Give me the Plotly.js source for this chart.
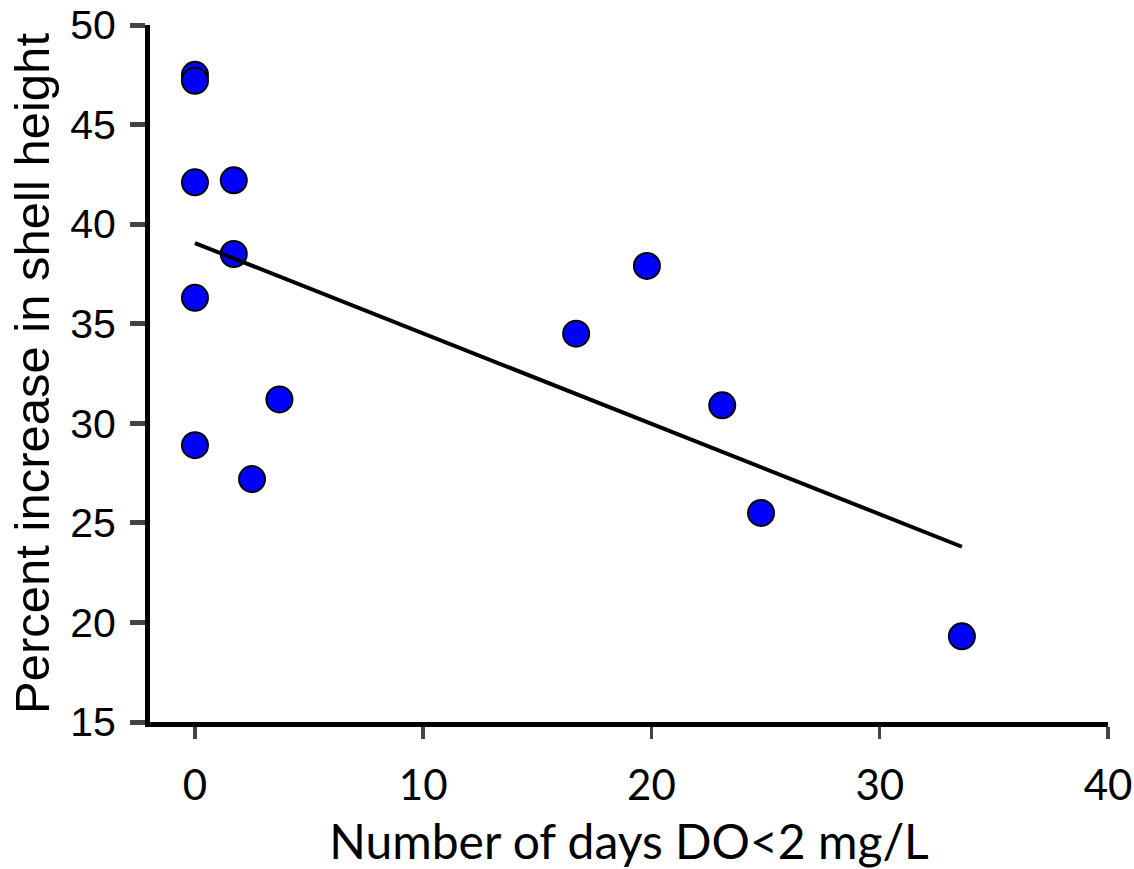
<!DOCTYPE html>
<html><head><meta charset="utf-8">
<script src="https://cdn.plot.ly/plotly-3.0.1.min.js"></script>
<style>body{margin:0;background:#fff}#chart{width:1134px;height:869px}</style>
</head><body><div id="chart"></div>
<script>
const daysLowDO = [0, 0, 0, 1.7, 1.7, 0, 3.7, 0, 2.5, 16.7, 19.8, 23.1, 24.8, 33.6];
const pctIncrease = [47.5, 47.2, 42.1, 42.2, 38.5, 36.3, 31.2, 28.9, 27.2, 34.5, 37.9, 30.9, 25.5, 19.3];
const trendX = [0, 33.6];
const trendY = [39.05, 23.8];
const xTicks = [0, 10, 20, 30, 40];
const yTicks = [15, 20, 25, 30, 35, 40, 45, 50];

const data = [
  {x: daysLowDO, y: pctIncrease, type: 'scatter', mode: 'markers',
   marker: {size: 26, color: '#0000ff', line: {color: '#000', width: 2}}, cliponaxis: false},
  {x: trendX, y: trendY, type: 'scatter', mode: 'lines', line: {color: '#000', width: 4}}
];
const layout = {
  width: 1134, height: 869, showlegend: false,
  paper_bgcolor: '#fff', plot_bgcolor: '#fff',
  margin: {l: 150, r: 26, t: 25, b: 147},
  xaxis: {range: [-1.97, 40], tickvals: xTicks, ticks: 'outside', ticklen: 12, tickwidth: 3.5,
    showline: true, linewidth: 5, linecolor: '#000', showgrid: false, zeroline: false,
    tickfont: {family: 'Lato, sans-serif', size: 42, color: '#000'}, ticklabelstandoff: 11,
    title: {text: 'Number of days DO<2 mg/L', font: {family: 'Lato, sans-serif', size: 48, color: '#000'}, standoff: 19}},
  yaxis: {range: [15, 50], tickvals: yTicks, ticks: 'outside', ticklen: 15, tickwidth: 5,
    showline: true, linewidth: 5, linecolor: '#000', showgrid: false, zeroline: false,
    tickfont: {family: '"Liberation Sans", Arial, sans-serif', size: 41, color: '#000'}, ticklabelstandoff: 6,
    title: {text: 'Percent increase in shell height', font: {family: '"Liberation Sans", Arial, sans-serif', size: 49, color: '#000'}, standoff: 7}}
};
Plotly.newPlot('chart', data, layout, {displayModeBar: false, staticPlot: true});
</script></body></html>
